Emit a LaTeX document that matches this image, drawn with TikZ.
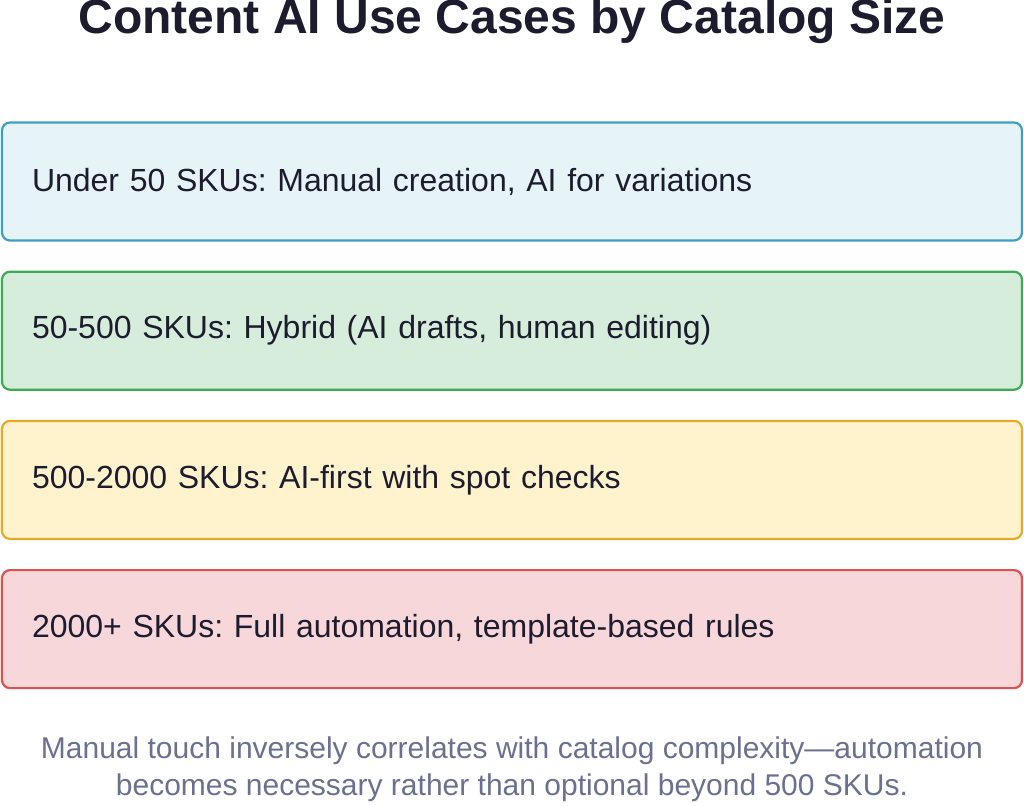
\documentclass[tikz,border=0pt]{standalone}
\usepackage{fontspec}
\setmainfont{Liberation Sans}
\usetikzlibrary{positioning}
\definecolor{titlecol}{HTML}{1C1C2E}
\definecolor{notecol}{HTML}{6B7090}
\definecolor{bluedraw}{HTML}{3E9FC0}
\definecolor{bluefill}{HTML}{E6F4F8}
\definecolor{greendraw}{HTML}{3DAA55}
\definecolor{greenfill}{HTML}{D5EDDA}
\definecolor{yellowdraw}{HTML}{E6A92A}
\definecolor{yellowfill}{HTML}{FFF3CD}
\definecolor{reddraw}{HTML}{D9534F}
\definecolor{redfill}{HTML}{F8D7DA}
\frenchspacing

\begin{document}
\begin{tikzpicture}[x=1pt, y=1pt, band/.style={rectangle, rounded corners=8pt, line width=2.2pt, minimum width=1019pt, minimum height=118pt, text width=960pt, inner xsep=30pt, align=left, font=\fontsize{32}{38}\selectfont, text=titlecol}, node distance=29pt]
    \useasboundingbox (0,0) rectangle (1024,-805);
    
    %Title
    \node[font=\bfseries\fontsize{48}{54}\selectfont, text=titlecol](title) at (512,-21){Content AI Use Cases by Catalog Size};
    
    %Bands
    \node[band, draw=bluedraw, fill=bluefill](small) at (512,-181.5){Under 50 SKUs: Manual creation, AI for variations};
    \node[band, draw=greendraw, fill=greenfill](medium)[below=of small]{50-500 SKUs: Hybrid (AI drafts, human editing)};
    \node[band, draw=yellowdraw, fill=yellowfill](large)[below=of medium]{500-2000 SKUs: AI-first with spot checks};
    \node[band, draw=reddraw, fill=redfill](huge)[below=of large]{2000+ SKUs: Full automation, template-based rules};
    
    %Note
    \node[font=\fontsize{30}{37}\selectfont, text=notecol, align=center](note) at (512,-769){Manual touch inversely correlates with catalog complexity---automation\\becomes necessary rather than optional beyond 500 SKUs.};
    
\end{tikzpicture}
\end{document}
